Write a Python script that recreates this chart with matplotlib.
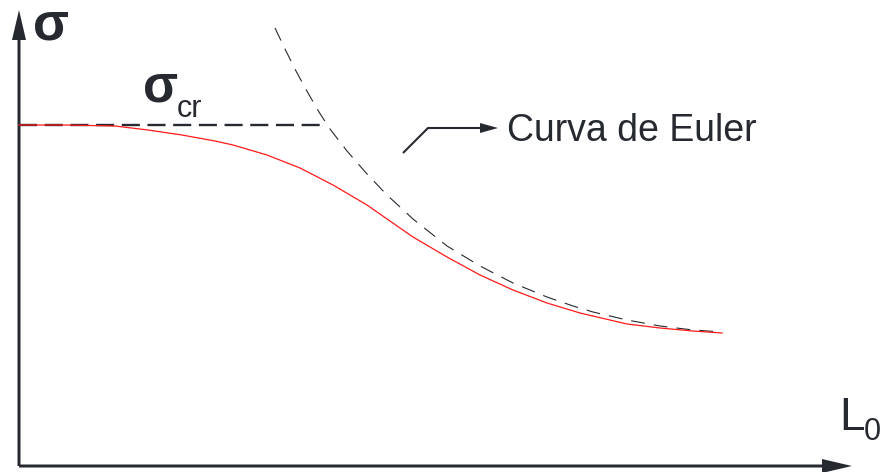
import matplotlib
matplotlib.use("Agg")
import matplotlib.pyplot as plt

# valores (L0 hacia la derecha, sigma hacia arriba)
sigma_cr = 341
L_cr = 308

L_real = [0, 46, 96, 129, 163, 196, 214, 248, 281, 314, 348, 381, 394, 428,
          461, 494, 528, 561, 608, 641, 674, 703]
sigma_real = [341, 341, 340, 336, 331, 325, 321, 311, 298, 281, 261, 238, 229, 209,
              191, 176, 163, 153, 142, 138, 135, 133]

L_euler = [256, 266, 277, 289, 300, 311, 328, 348, 368, 394, 428, 461, 494, 528,
           554, 574, 608, 641, 674, 703]
sigma_euler = [438, 417, 395, 373, 354, 337, 315, 292, 271, 247, 220, 200, 183, 169,
               160, 154, 146, 140, 136, 134]

oscuro = "#262a30"
rojo = "#ff1a1a"
letra = "Liberation Sans"

plt.rcParams["lines.scale_dashes"] = False

fig = plt.figure(figsize=(8.84, 4.72), dpi=100)
ax = fig.add_axes([0, 0, 1, 1])
ax.set_xlim(-19, 865)
ax.set_ylim(-6, 466)
ax.axis("off")

# ejes con flechas
ax.arrow(0, 0, 0, 456, width=3, head_width=14, head_length=30,
         length_includes_head=True, color=oscuro, lw=0)
ax.arrow(0, 0, 833, 0, width=3, head_width=14, head_length=30,
         length_includes_head=True, color=oscuro, lw=0)

# tension critica
ax.plot([0, L_cr], [sigma_cr, sigma_cr], color=oscuro, lw=1.7, dashes=(13, 5.5))

# curva de Euler
ax.plot(L_euler, sigma_euler, color=oscuro, lw=0.8, dashes=(10, 6.5))

# curva real
ax.plot(L_real, sigma_real, color=rojo, lw=0.9)

# flecha indicadora
ax.plot([384, 409, 470], [313, 338, 338], color=oscuro, lw=1.5, solid_capstyle="butt")
ax.arrow(462, 338, 17, 0, width=1.8, head_width=10, head_length=18,
         length_includes_head=True, color=oscuro, lw=0)

# textos
ax.text(14, 426, "σ", fontsize=38, fontweight="bold", family=letra,
        color=oscuro, ha="left", va="baseline")
ax.text(124, 364, "σ", fontsize=37, fontweight="bold", family=letra,
        color=oscuro, ha="left", va="baseline")
ax.text(158, 349, "cr", fontsize=22, family=letra,
        color=oscuro, ha="left", va="baseline")
ax.text(488, 325, "Curva de Euler", fontsize=27, family=letra,
        color=oscuro, ha="left", va="baseline")
ax.text(820, 36, "L", fontsize=33, family=letra,
        color=oscuro, ha="left", va="baseline")
ax.text(845, 26, "0", fontsize=22, family=letra,
        color=oscuro, ha="left", va="baseline")

fig.savefig("out.png", dpi=100)
